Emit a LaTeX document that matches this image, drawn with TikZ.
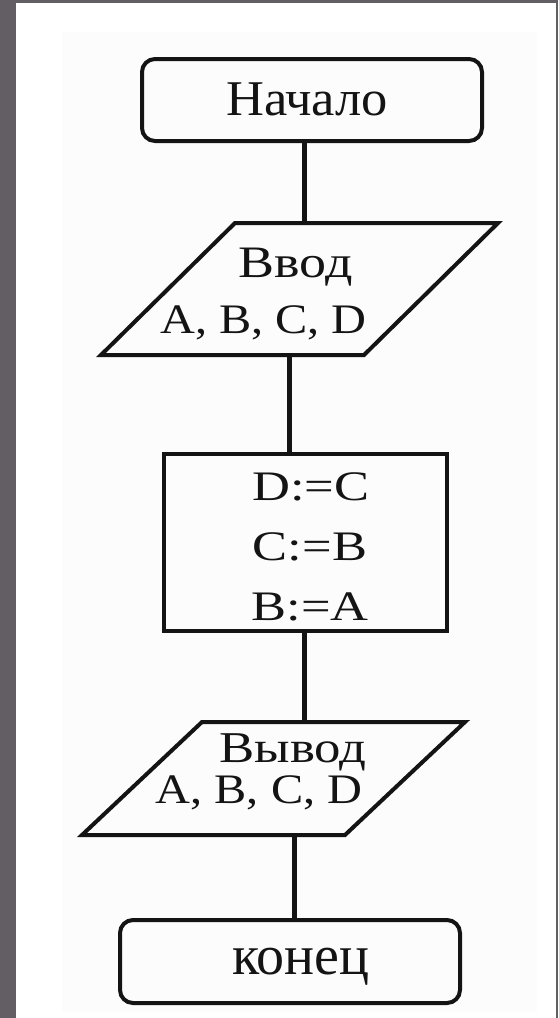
\documentclass[tikz,border=0pt]{standalone}
\usepackage{fontspec}
\setmainfont{Liberation Serif}
\usepackage{graphicx}
\definecolor{bggray}{RGB}{98,94,100}
\definecolor{ink}{RGB}{20,20,20}
\begin{document}
\begin{tikzpicture}[x=1pt,y=-1pt,
  box/.style={draw=ink, line width=4pt, inner sep=0pt, outer sep=0pt},
  term/.style={box, rounded corners=13pt},
  frame/.style={draw=none, inner sep=0pt, outer sep=0pt},
  para/.style={draw=ink, line width=4pt, line join=miter},
  conn/.style={draw=ink, line width=5pt},
  lbl/.style={inner sep=0pt, anchor=base, text=ink}]
\useasboundingbox (0,0) rectangle (558,1018);
\fill[bggray] (0,0) rectangle (558,1018);
\fill[white] (16,3) rectangle (556,1018);
\fill[black!1] (62,32) rectangle (537,1012);

% shapes
\node[term, minimum width=340pt, minimum height=82pt] (nach) at (312,100) {};
\node[frame, minimum width=397pt, minimum height=132pt] (vvod) at (299.5,289) {};
\draw[para] (vvod.south west) -- ([xshift=134pt]vvod.north west) -- (vvod.north east) -- ([xshift=-134pt]vvod.south east) -- cycle;
\node[box, minimum width=283pt, minimum height=177pt] (calc) at (305.5,542.5) {};
\node[frame, minimum width=383pt, minimum height=113pt] (vyvod) at (273.5,778.5) {};
\draw[para] (vyvod.south west) -- ([xshift=120pt]vyvod.north west) -- (vyvod.north east) -- ([xshift=-120pt]vyvod.south east) -- cycle;
\node[term, minimum width=340pt, minimum height=83pt] (kon) at (290,961.5) {};

% connectors
\coordinate (x1) at (304,0);
\coordinate (x2) at (289,0);
\coordinate (x3) at (304,0);
\coordinate (x4) at (294,0);
\draw[conn] (nach.south -| x1) -- (vvod.north -| x1);
\draw[conn] (vvod.south -| x2) -- (calc.north -| x2);
\draw[conn] (calc.south -| x3) -- (vyvod.north -| x3);
\draw[conn] (vyvod.south -| x4) -- (kon.north -| x4);

% labels
\node[lbl, font=\fontsize{50}{50}\selectfont] (tnach) at (307,115) {\scalebox{1.05}[1]{Начало}};
\node[lbl, font=\fontsize{45}{45}\selectfont] (tvvod) at (295.5,277) {\scalebox{1.2}[1]{Ввод}};
\node[lbl, font=\fontsize{42}{42}\selectfont] (tin) at (263.5,333) {\scalebox{1.15}[1]{A, B, C, D}};
\node[lbl, font=\fontsize{42}{42}\selectfont] (t1) at (311,500) {\scalebox{1.25}[1]{D:=C}};
\node[lbl, font=\fontsize{42}{42}\selectfont] (t2) at (310,560) {\scalebox{1.25}[1]{C:=B}};
\node[lbl, font=\fontsize{42}{42}\selectfont] (t3) at (310,620) {\scalebox{1.25}[1]{B:=A}};
\node[lbl, font=\fontsize{44}{44}\selectfont] (tvyvod) at (293,762) {\scalebox{1.2}[1]{Вывод}};
\node[lbl, font=\fontsize{42}{42}\selectfont] (tout) at (259,803) {\scalebox{1.15}[1]{A, B, C, D}};
\node[lbl, font=\fontsize{56}{56}\selectfont] (tkon) at (301,974) {конец};
\end{tikzpicture}
\end{document}
